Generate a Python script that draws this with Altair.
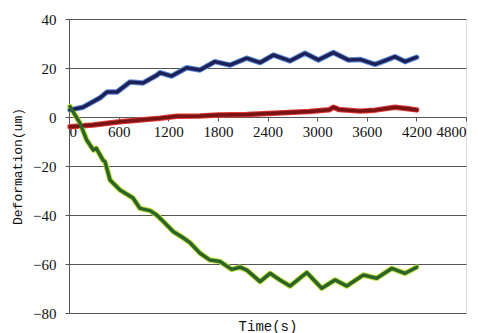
import altair as alt
import pandas as pd

# Blue series
blue_t = [12, 170, 375, 460, 580, 738, 895, 1064, 1100, 1241, 1423, 1584, 1765, 1947, 2148, 2310,
          2471, 2672, 2853, 3015, 3196, 3377, 3519, 3700, 3821, 3942, 4063, 4204]
blue_v = [2.9, 4.0, 7.8, 10.2, 10.2, 14.3, 13.9, 17.1, 18.1, 16.7, 20.1, 19.2, 22.6, 21.2, 24.0, 22.2,
          25.3, 22.9, 26.0, 23.3, 26.3, 23.3, 23.5, 21.5, 23.0, 24.6, 22.6, 24.4]

# Red series
red_t = [12, 290, 617, 1100, 1300, 1580, 1800, 2150, 2470, 2900, 3150, 3196, 3260, 3520, 3700, 3942, 4100, 4204]
red_v = [-4.0, -3.3, -1.9, -0.5, 0.3, 0.4, 0.8, 1.0, 1.5, 2.2, 3.0, 4.0, 3.1, 2.4, 2.8, 4.0, 3.4, 2.9]

# Green series
green_t = [12, 133, 214, 294, 330, 411, 435, 496, 617, 774, 858, 980, 1060, 1141, 1262, 1362, 1463,
           1584, 1705, 1826, 1967, 2068, 2150, 2310, 2431, 2550, 2672, 2874, 3056, 3216, 3358, 3559,
           3720, 3902, 4063, 4204]
green_v = [4.2, -2.5, -9.4, -13.5, -12.8, -17.6, -18.2, -25.7, -29.8, -33.1, -37.3, -38.2, -40.0, -42.7,
           -46.8, -48.9, -51.3, -55.6, -58.4, -59.0, -62.2, -61.3, -62.5, -67.2, -63.8, -66.5, -69.0,
           -63.5, -69.9, -66.5, -69.0, -64.5, -65.8, -61.8, -63.8, -61.3]

x_ticks = [0, 600, 1200, 1800, 2400, 3000, 3600, 4200, 4800]
y_ticks = [-80, -60, -40, -20, 0, 20, 40]

rows = []
for name, ts, vs in [("blue", blue_t, blue_v), ("red", red_t, red_v), ("green", green_t, green_v)]:
    for t, v in zip(ts, vs):
        rows.append({"series": name, "t": t, "v": v})
df = pd.DataFrame(rows)

outline_colors = alt.Scale(domain=["blue", "red", "green"], range=["#5f8fe0", "#e23a3a", "#c0dc3a"])
core_colors = alt.Scale(domain=["blue", "red", "green"], range=["#1e2158", "#7a1414", "#2b6428"])

x_enc = alt.X("t:Q", scale=alt.Scale(domain=[0, 4800], nice=False),
              axis=alt.Axis(values=x_ticks, format="d", title="Time(s)", offset=-196, grid=False,
                            tickSize=4, labelPadding=3, titleY=213, titleBaseline="alphabetic",
                            titleFontSize=14))
y_enc = alt.Y("v:Q", scale=alt.Scale(domain=[-80, 40], nice=False),
              axis=alt.Axis(values=y_ticks, format="d", title="Deformation(um)", grid=True,
                            gridColor="#555", gridWidth=1, tickSize=4, labelPadding=9,
                            titleFontSize=13, titlePadding=8))

base = alt.Chart(df).encode(x=x_enc, y=y_enc, detail="series:N")
outline = base.mark_line(strokeWidth=5.5, strokeJoin="round", strokeCap="round").encode(
    color=alt.Color("series:N", scale=outline_colors, legend=None))
core = base.mark_line(strokeWidth=3.5, strokeJoin="round", strokeCap="round").encode(
    color=alt.Color("series:N", scale=core_colors, legend=None))

chart = alt.layer(outline, core).resolve_scale(color="independent").properties(
    width=397, height=294, autosize="none",
    padding={"left": 69, "top": 19, "right": 12, "bottom": 20},
).configure_view(stroke="#666", strokeWidth=1).configure(background="white").configure_axis(
    labelFont="Liberation Serif", labelFontSize=15, labelColor="#111",
    domainColor="#555", tickColor="#555", titleFont="Liberation Mono",
    titleFontWeight="normal", titleColor="#111",
)

chart.save("out.html", embed_options={"renderer": "svg", "actions": False})
